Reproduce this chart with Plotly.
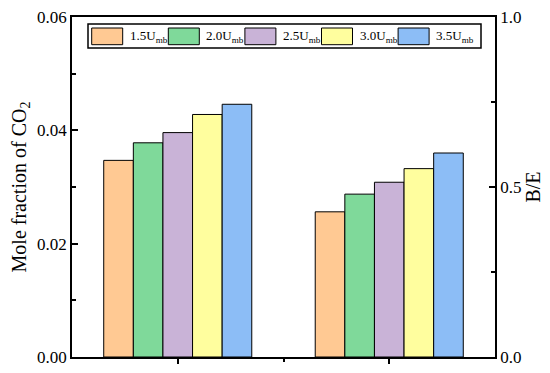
import plotly.graph_objects as go

categories = ["Mole fraction of CO2", "B/E"]
series_names = ["1.5U<sub>mb</sub>", "2.0U<sub>mb</sub>", "2.5U<sub>mb</sub>", "3.0U<sub>mb</sub>", "3.5U<sub>mb</sub>"]
co2_values = [0.0347, 0.0378, 0.0396, 0.0428, 0.0446]
be_values = [0.427, 0.479, 0.514, 0.554, 0.600]
colors = ["#FFC993", "#7FD99A", "#C9B3D7", "#FFFE9E", "#8CBDF6"]
left_ticks = [0.0, 0.02, 0.04, 0.06]
right_ticks = [0.0, 0.5, 1.0]

FONT = "Times New Roman, Liberation Serif, serif"

# figure is offset by the page's 8px body margin, so size it to fit the window
W, H = 542, 365
ML, MR, MT, MB = 64, 55, 9, 16
PW, PH = W - ML - MR, H - MT - MB


def px(x):  # figure pixel -> paper x
    return (x - ML) / PW


def py(y):  # figure pixel -> paper y
    return (H - MB - y) / PH


fig = go.Figure()
for i, name in enumerate(series_names):
    fig.add_trace(go.Bar(
        x=[0], y=[co2_values[i]], name=name, marker=dict(color=colors[i], line=dict(color="black", width=1)),
        offsetgroup=str(i), legendgroup=str(i), yaxis="y", showlegend=False))
for i, name in enumerate(series_names):
    fig.add_trace(go.Bar(
        x=[1], y=[be_values[i]], name=name, marker=dict(color=colors[i], line=dict(color="black", width=1)),
        offsetgroup=str(i), legendgroup=str(i), yaxis="y2", showlegend=False))

# custom legend (Origin-style wide swatches)
shapes = [dict(type="rect", xref="paper", yref="paper", x0=px(80), x1=px(473), y0=py(40), y1=py(16),
               line=dict(color="black", width=1.5), fillcolor="white", layer="above")]
annotations = []
for i, name in enumerate(series_names):
    sx = 83.7 + 76.6 * i
    shapes.append(dict(type="rect", xref="paper", yref="paper", x0=px(sx), x1=px(sx + 31),
                       y0=py(36.7), y1=py(20), line=dict(color="black", width=1),
                       fillcolor=colors[i], layer="above"))
    annotations.append(dict(xref="paper", yref="paper", x=px(sx + 36), y=py(28.5), text=name,
                            showarrow=False, xanchor="left", yanchor="middle",
                            font=dict(family=FONT, size=13, color="black")))

fig.update_layout(
    width=W, height=H,
    margin=dict(l=ML, r=MR, t=MT, b=MB),
    plot_bgcolor="white", paper_bgcolor="white",
    font=dict(family=FONT, size=17, color="black"),
    barmode="group", bargap=0.3, bargroupgap=0,
    showlegend=False,
    shapes=shapes, annotations=annotations,
    xaxis=dict(range=[-0.5, 1.5], tickvals=[0, 1], ticktext=["", ""], showticklabels=False,
               ticks="outside", ticklen=5, tickwidth=1.5, tickcolor="black",
               minor=dict(tickvals=[0.5], ticks="outside", ticklen=3, tickwidth=1.5, tickcolor="black"),
               showline=True, linecolor="black", linewidth=1.5, mirror=True, showgrid=False, zeroline=False,
               automargin=False),
    yaxis=dict(range=[0, 0.06], tickvals=left_ticks, tickformat=".2f",
               ticks="inside", ticklen=6, tickwidth=1.5, tickcolor="black",
               minor=dict(dtick=0.01, ticks="inside", ticklen=4, tickwidth=1.5, tickcolor="black"),
               showline=True, linecolor="black", linewidth=1.5, showgrid=False, zeroline=False,
               automargin=False, ticklabeloverflow="allow",
               title=dict(text="Mole fraction of CO<sub>2</sub>", standoff=8)),
    yaxis2=dict(range=[0, 1], tickvals=right_ticks, tickformat=".1f", overlaying="y", side="right",
                ticks="inside", ticklen=6, tickwidth=1.5, tickcolor="black",
                minor=dict(dtick=0.25, ticks="inside", ticklen=4, tickwidth=1.5, tickcolor="black"),
                showline=True, linecolor="black", linewidth=1.5, showgrid=False, zeroline=False,
                automargin=False, ticklabeloverflow="allow",
                title=dict(text="B/E", standoff=6)),
)

fig.write_html("out.html")
